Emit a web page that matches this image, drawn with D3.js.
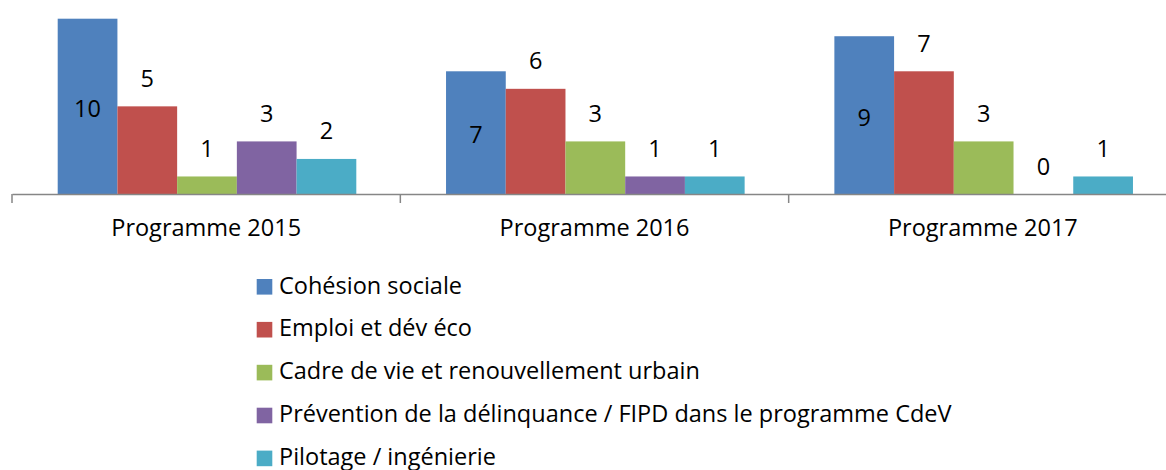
<!DOCTYPE html>
<html><head><meta charset="utf-8">
<script src="https://cdn.jsdelivr.net/npm/d3@7"></script>
<style>body{margin:0;background:#fff;}svg{display:block;}text{font-family:"Open Sans",sans-serif;fill:#000;}</style>
</head><body>
<svg id="c" width="1166" height="470"></svg>
<script>
const categories = ["Programme 2015", "Programme 2016", "Programme 2017"];
const seriesNames = ["Cohésion sociale", "Emploi et dév éco", "Cadre de vie et renouvellement urbain", "Prévention de la délinquance / FIPD dans le programme CdeV", "Pilotage / ingénierie"];
const cohesion = [10, 7, 9];
const emploi = [5, 6, 7];
const cadre = [1, 3, 3];
const prevention = [3, 1, 0];
const pilotage = [2, 1, 1];
const colors = ["#4F81BD", "#C0504D", "#9BBB59", "#8064A2", "#4BACC6"];

const FS = 23.5;
const seriesValues = [cohesion, emploi, cadre, prevention, pilotage];
const svg = d3.select("#c");
const base = 194;
const x0 = d3.scaleBand().domain(categories).range([12, 1177]).paddingInner(0).paddingOuter(0);
const x1 = d3.scaleBand().domain(d3.range(seriesNames.length)).range([45.7, 45.7 + 298.6]).padding(0);
const y = d3.scaleLinear().domain([0, 10]).range([base, 18.7]);

const g = svg.append("g");
categories.forEach((cat, ci) => {
  const gg = g.append("g").attr("transform", `translate(${x0(cat)},0)`);
  seriesValues.forEach((vals, si) => {
    const v = vals[ci];
    gg.append("rect")
      .attr("x", x1(si)).attr("width", x1.bandwidth())
      .attr("y", y(v)).attr("height", base - y(v))
      .attr("fill", colors[si]);
    const cx = x1(si) + x1.bandwidth() / 2;
    const ty = si === 0 ? (y(v) + base) / 2 + 10.5 : y(v) - 19.5;
    gg.append("text").attr("x", cx).attr("y", ty).attr("text-anchor", "middle")
      .attr("font-size", FS).text(v);
  });
});

// axis
const axis = d3.axisBottom(x0).tickSize(0).tickSizeOuter(0).tickPadding(0);
const ag = svg.append("g").attr("transform", `translate(0,${base})`).call(axis);
ag.select(".domain").attr("stroke", "#868686").attr("stroke-width", 1.5);
ag.selectAll(".tick text").attr("font-size", FS).attr("y", 42).attr("dy", 0).attr("font-family", "Open Sans").attr("fill", "#000");
const bounds = categories.map(c => x0(c)).concat([x0(categories[2]) + x0.bandwidth()]);
ag.selectAll(".bt").data(bounds).enter().append("line").attr("class", "bt")
  .attr("x1", d => d).attr("x2", d => d).attr("y1", 0).attr("y2", 9)
  .attr("stroke", "#868686").attr("stroke-width", 1.5);

// legend
const lg = svg.append("g").attr("transform", "translate(256.7,279)");
seriesNames.forEach((n, i) => {
  const row = lg.append("g").attr("transform", `translate(0,${i * 42.9})`);
  row.append("rect").attr("width", 15.6).attr("height", 15.6).attr("fill", colors[i]);
  row.append("text").attr("x", 22.3).attr("y", 14.5).attr("font-size", FS).text(n);
});
</script>
</body></html>
